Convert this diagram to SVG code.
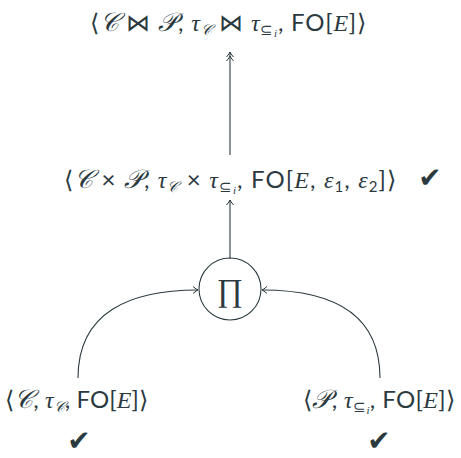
<svg xmlns="http://www.w3.org/2000/svg" width="461" height="458" viewBox="0 0 461 458">
<style>
.t{font-family:"Lato","Open Sans",sans-serif;font-size:24px;fill:#2b3a3f}
.m{font-family:"Liberation Serif","DejaVu Serif",serif;font-style:italic}
.c{font-family:"DejaVu Serif","Liberation Serif",serif;font-style:italic;font-size:26px}
.s{font-size:15px}
.ck{font-family:"DejaVu Sans",sans-serif;font-size:28px;fill:#2b3a3f}
.e{stroke:#2b3a3f;stroke-width:1.1;fill:none}
</style>
<defs>
<marker id="a" viewBox="-6 -5 8 10" markerWidth="8" markerHeight="10" refX="0" refY="0" orient="auto" markerUnits="userSpaceOnUse">
<path d="M-5,-3.5 Q-1.5,-0.5 0,0 Q-1.5,0.5 -5,3.5" fill="none" stroke="#2b3a3f" stroke-width="1"/>
</marker>
<marker id="aa" viewBox="-10 -5 12 10" markerWidth="12" markerHeight="10" refX="0" refY="0" orient="auto" markerUnits="userSpaceOnUse">
<path d="M-5,-3.5 Q-1.5,-0.5 0,0 Q-1.5,0.5 -5,3.5 M-9,-3.5 Q-5.5,-0.5 -4,0 Q-5.5,0.5 -9,3.5" fill="none" stroke="#2b3a3f" stroke-width="1"/>
</marker>
</defs>
<g id="connectors">
<path class="e" d="M230,155 L230,52" marker-end="url(#aa)"/>
<path class="e" d="M230,259 L230,200" marker-end="url(#a)"/>
<path class="e" d="M78,378 C78,312 130,290 198,290" marker-end="url(#a)"/>
<path class="e" d="M380,378 C380,312 330,290 262,290" marker-end="url(#a)"/>
</g>
<g id="join">
<text class="t" x="90" y="31" textLength="276" lengthAdjust="spacing">⟨<tspan class="c">𝒞</tspan> ⋈ <tspan class="c">𝒫</tspan>, <tspan class="m">τ</tspan><tspan class="c s" dy="4">𝒞</tspan><tspan dy="-4"> ⋈ </tspan><tspan class="m">τ</tspan><tspan class="s" dy="4">⊆</tspan><tspan class="m" font-size="11" dy="2">i</tspan><tspan dy="-6">, FO[</tspan><tspan class="m">E</tspan>]⟩</text>
</g>
<g id="product">
<text class="t" x="64" y="188" textLength="332" lengthAdjust="spacing">⟨<tspan class="c">𝒞</tspan> × <tspan class="c">𝒫</tspan>, <tspan class="m">τ</tspan><tspan class="c s" dy="4">𝒞</tspan><tspan dy="-4"> × </tspan><tspan class="m">τ</tspan><tspan class="s" dy="4">⊆</tspan><tspan class="m" font-size="11" dy="2">i</tspan><tspan dy="-6">, FO[</tspan><tspan class="m">E</tspan>, <tspan class="m">ε</tspan><tspan class="s" dy="4">1</tspan><tspan dy="-4">, </tspan><tspan class="m">ε</tspan><tspan class="s" dy="4">2</tspan><tspan dy="-4">]⟩</tspan></text>
<text class="ck" x="430" y="187" text-anchor="middle">✔</text>
</g>
<g id="pi">
<circle class="e" cx="230" cy="289" r="31"/>
<text x="230" y="301" text-anchor="middle" font-family="Liberation Serif,serif" font-size="32" fill="#2b3a3f">∏</text>
</g>
<g id="left">
<text class="t" x="5" y="408" textLength="143" lengthAdjust="spacing">⟨<tspan class="c">𝒞</tspan>, <tspan class="m">τ</tspan><tspan class="c s" dy="4">𝒞</tspan><tspan dy="-4">, FO[</tspan><tspan class="m">E</tspan>]⟩</text>
<text class="ck" x="79" y="450" text-anchor="middle">✔</text>
</g>
<g id="right">
<text class="t" x="303" y="408" textLength="152" lengthAdjust="spacing">⟨<tspan class="c">𝒫</tspan>, <tspan class="m">τ</tspan><tspan class="s" dy="4">⊆</tspan><tspan class="m" font-size="11" dy="2">i</tspan><tspan dy="-6">, FO[</tspan><tspan class="m">E</tspan>]⟩</text>
<text class="ck" x="379" y="450" text-anchor="middle">✔</text>
</g>
</svg>
